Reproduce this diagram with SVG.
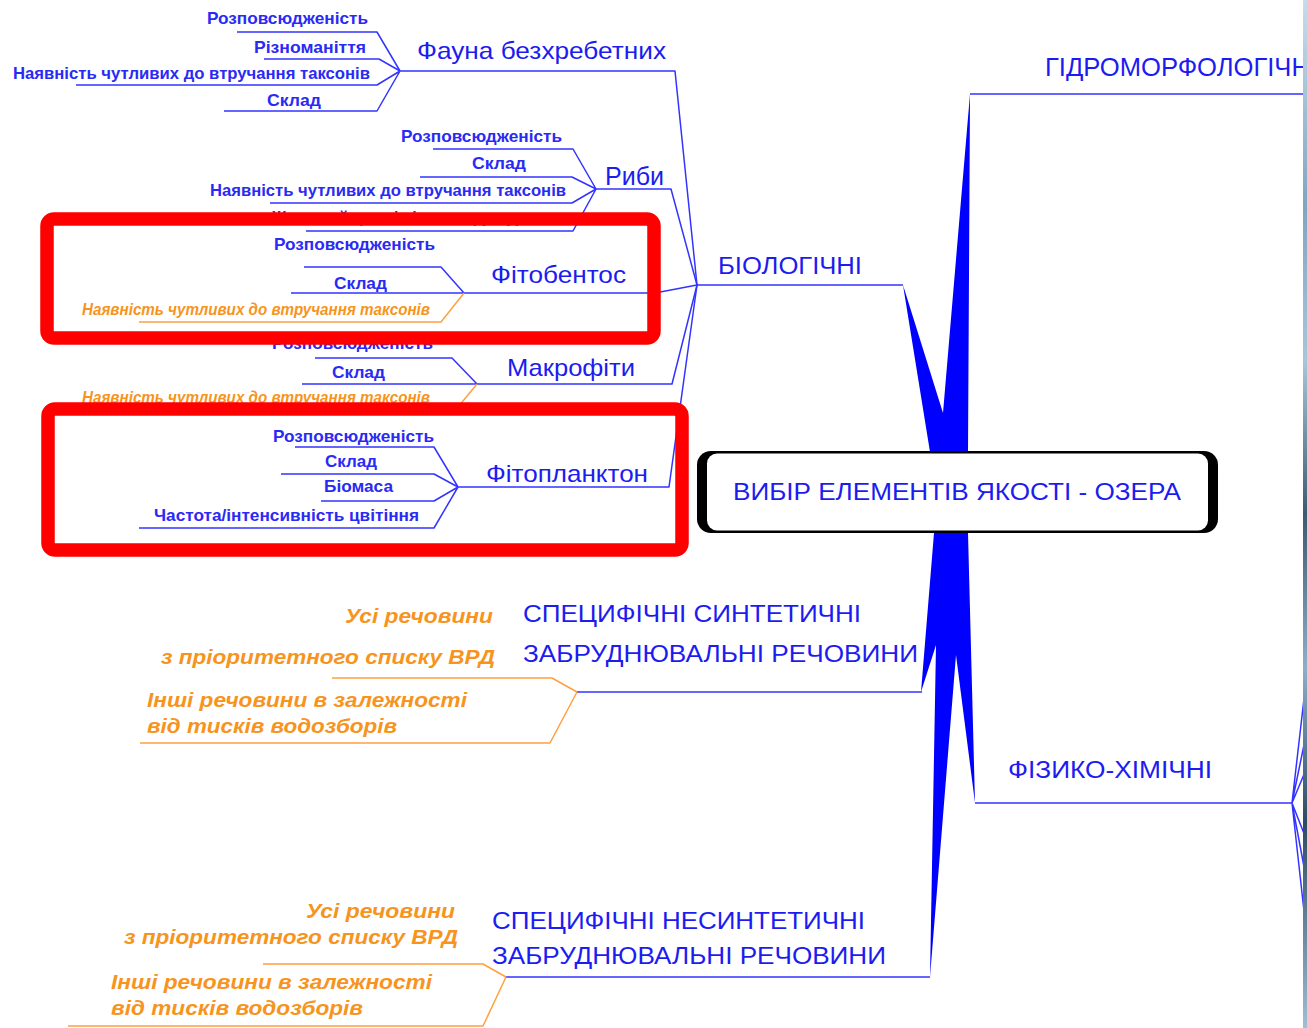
<svg xmlns="http://www.w3.org/2000/svg" width="1307" height="1028" viewBox="0 0 1307 1028">
<defs>
<style>
.ln{fill:none;stroke:#3333ff;stroke-width:1.5;stroke-linejoin:round}
.lo{fill:none;stroke:#ffa040;stroke-width:1.5;stroke-linejoin:round}
.s{font-family:"Liberation Sans",Arial,sans-serif;font-size:16.5px;font-weight:bold;fill:#2a2af5}
.so{font-family:"Liberation Sans",Arial,sans-serif;font-size:16.5px;font-weight:bold;font-style:italic;fill:#f7941d}
.m{font-family:"Liberation Sans",Arial,sans-serif;font-size:24px;fill:#1c1cf0}
.o{font-family:"Liberation Sans",Arial,sans-serif;font-size:21px;font-weight:bold;font-style:italic;fill:#f7941d}
.red{fill:none;stroke:#ff0000;stroke-width:13.5}
</style>
<linearGradient id="strip" x1="0" y1="0" x2="0" y2="1">
<stop offset="0" stop-color="#c8dcea"/>
<stop offset="0.2" stop-color="#7fa6c0"/>
<stop offset="0.35" stop-color="#a9c6da"/>
<stop offset="0.5" stop-color="#3d5a70"/>
<stop offset="0.65" stop-color="#8cb0c8"/>
<stop offset="0.8" stop-color="#2e4a60"/>
<stop offset="1" stop-color="#9fbfd6"/>
</linearGradient>
</defs>
<rect width="1307" height="1028" fill="#ffffff"/>

<g id="connectors">
<path class="ln" d="M237,32 H377 L400,71 M264,59 H379 L400,71 M76,85 H377 L400,71 M224,111 H377 L400,71 M400,71 H675 L697,285"/>
<path class="ln" d="M433,149 H573 L596,189 M420,177 H572 L596,189 M270,203 H572 L596,189 M306,231 H573 L596,189 M596,189 H671 L697,285"/>
<path class="ln" d="M304,267 H441 L464,293 M291,293 H655 L697,285"/>
<path class="lo" d="M139,322 H441 L464,293"/>
<path class="ln" d="M315,358 H452 L477,384 M302,384 H672 L697,285"/>
<path class="lo" d="M139,407 H458 L477,384"/>
<path class="ln" d="M295,447 H434 L458,487 M281,474 H434 L458,487 M321,501 H434 L458,487 M139,528 H434 L458,487 M458,487 H669 L697,285"/>
<path class="ln" d="M697,285 H903"/>
<path class="ln" d="M970,94 H1307"/>
<path class="ln" d="M975,803 H1292 M1292,803 L1305,690 M1292,803 L1305,740 M1292,803 L1305,772 M1292,803 L1305,836 M1292,803 L1305,872 M1292,803 L1305,920"/>
<path class="ln" d="M577,692 H922"/>
<path class="lo" d="M332,678 H552 L577,692 M140,743 H550 L577,692"/>
<path class="ln" d="M506,977 H930"/>
<path class="lo" d="M263,964 H483 L506,977 M68,1026 H483 L506,977"/>
<path d="M903,285 L943,413 L970,94 L968,452 L930,452 Z" fill="#0000ff"/>
<path d="M934,533 L921,692 L936,645 L930,977 L956,655 L975,803 L968,533 Z" fill="#0000ff"/>
</g>

<g id="fauna">
<text class="s" x="207" y="24" textLength="161" lengthAdjust="spacingAndGlyphs">Розповсюдженість</text>
<text class="s" x="254" y="53" textLength="112" lengthAdjust="spacingAndGlyphs">Різноманіття</text>
<text class="s" x="13" y="79" textLength="357" lengthAdjust="spacingAndGlyphs">Наявність чутливих до втручання таксонів</text>
<text class="s" x="267" y="106" textLength="54" lengthAdjust="spacingAndGlyphs">Склад</text>
<text class="m" x="417" y="59" textLength="249" lengthAdjust="spacingAndGlyphs">Фауна безхребетних</text>
</g>

<g id="ryby">
<text class="s" x="401" y="142" textLength="161" lengthAdjust="spacingAndGlyphs">Розповсюдженість</text>
<text class="s" x="472" y="169" textLength="54" lengthAdjust="spacingAndGlyphs">Склад</text>
<text class="s" x="210" y="196" textLength="356" lengthAdjust="spacingAndGlyphs">Наявність чутливих до втручання таксонів</text>
<text class="s" x="272" y="223" textLength="261" lengthAdjust="spacingAndGlyphs">Життєвий цикл і вікова структура</text>
<text class="m" x="605" y="185" style="font-size:26px" textLength="59" lengthAdjust="spacingAndGlyphs">Риби</text>
</g>

<g id="fitobentos">
<text class="s" x="274" y="250" textLength="161" lengthAdjust="spacingAndGlyphs">Розповсюдженість</text>
<text class="s" x="334" y="289" textLength="53" lengthAdjust="spacingAndGlyphs">Склад</text>
<text class="so" x="82" y="315" textLength="348" lengthAdjust="spacingAndGlyphs">Наявність чутливих до втручання таксонів</text>
<text class="m" x="491" y="283" textLength="135" lengthAdjust="spacingAndGlyphs">Фітобентос</text>
</g>

<g id="makrofity">
<text class="s" x="272" y="349" textLength="161" lengthAdjust="spacingAndGlyphs">Розповсюдженість</text>
<text class="s" x="332" y="378" textLength="53" lengthAdjust="spacingAndGlyphs">Склад</text>
<text class="so" x="82" y="403" textLength="348" lengthAdjust="spacingAndGlyphs">Наявність чутливих до втручання таксонів</text>
<text class="m" x="507" y="376" textLength="128" lengthAdjust="spacingAndGlyphs">Макрофіти</text>
</g>

<g id="fitoplankton">
<text class="s" x="273" y="442" textLength="161" lengthAdjust="spacingAndGlyphs">Розповсюдженість</text>
<text class="s" x="325" y="467" textLength="52" lengthAdjust="spacingAndGlyphs">Склад</text>
<text class="s" x="324" y="492" textLength="69" lengthAdjust="spacingAndGlyphs">Біомаса</text>
<text class="s" x="154" y="521" textLength="265" lengthAdjust="spacingAndGlyphs">Частота/інтенсивність цвітіння</text>
<text class="m" x="486" y="482" textLength="162" lengthAdjust="spacingAndGlyphs">Фітопланктон</text>
</g>

<g id="biologichni">
<text class="m" x="718" y="274" style="font-size:23px" textLength="144" lengthAdjust="spacingAndGlyphs">БІОЛОГІЧНІ</text>
</g>

<g id="gidromorf">
<text class="m" x="1045" y="76" style="font-size:25px" textLength="272" lengthAdjust="spacingAndGlyphs">ГІДРОМОРФОЛОГІЧНІ</text>
</g>

<g id="fizyko">
<text class="m" x="1008" y="778" style="font-size:23px" textLength="204" lengthAdjust="spacingAndGlyphs">ФІЗИКО-ХІМІЧНІ</text>
</g>

<g id="synth">
<text class="m" x="523" y="622" textLength="338" lengthAdjust="spacingAndGlyphs">СПЕЦИФІЧНІ СИНТЕТИЧНІ</text>
<text class="m" x="523" y="662" textLength="395" lengthAdjust="spacingAndGlyphs">ЗАБРУДНЮВАЛЬНІ РЕЧОВИНИ</text>
<text class="o" x="345" y="623" textLength="148" lengthAdjust="spacingAndGlyphs">Усі речовини</text>
<text class="o" x="161" y="664" textLength="334" lengthAdjust="spacingAndGlyphs">з пріоритетного списку ВРД</text>
<text class="o" x="147" y="707" textLength="320" lengthAdjust="spacingAndGlyphs">Інші речовини в залежності</text>
<text class="o" x="147" y="733" textLength="250" lengthAdjust="spacingAndGlyphs">від тисків водозборів</text>
</g>

<g id="nonsynth">
<text class="m" x="492" y="929" textLength="373" lengthAdjust="spacingAndGlyphs">СПЕЦИФІЧНІ НЕСИНТЕТИЧНІ</text>
<text class="m" x="492" y="964" textLength="394" lengthAdjust="spacingAndGlyphs">ЗАБРУДНЮВАЛЬНІ РЕЧОВИНИ</text>
<text class="o" x="306" y="918" textLength="149" lengthAdjust="spacingAndGlyphs">Усі речовини</text>
<text class="o" x="124" y="944" textLength="334" lengthAdjust="spacingAndGlyphs">з пріоритетного списку ВРД</text>
<text class="o" x="111" y="989" textLength="321" lengthAdjust="spacingAndGlyphs">Інші речовини в залежності</text>
<text class="o" x="111" y="1015" textLength="252" lengthAdjust="spacingAndGlyphs">від тисків водозборів</text>
</g>

<g id="center">
<rect x="697" y="451" width="521" height="82" rx="14" fill="#000000"/>
<rect x="707" y="453.5" width="501" height="77" rx="10" fill="#ffffff"/>
<text class="m" x="733" y="500" textLength="448" lengthAdjust="spacingAndGlyphs">ВИБІР ЕЛЕМЕНТІВ ЯКОСТІ - ОЗЕРА</text>
</g>

<g id="highlights">
<rect class="red" x="47" y="219" width="607" height="119" rx="7"/>
<rect class="red" x="48" y="409" width="634" height="141" rx="7"/>
</g>

<rect x="1303" y="0" width="4" height="1028" fill="url(#strip)"/>
</svg>
